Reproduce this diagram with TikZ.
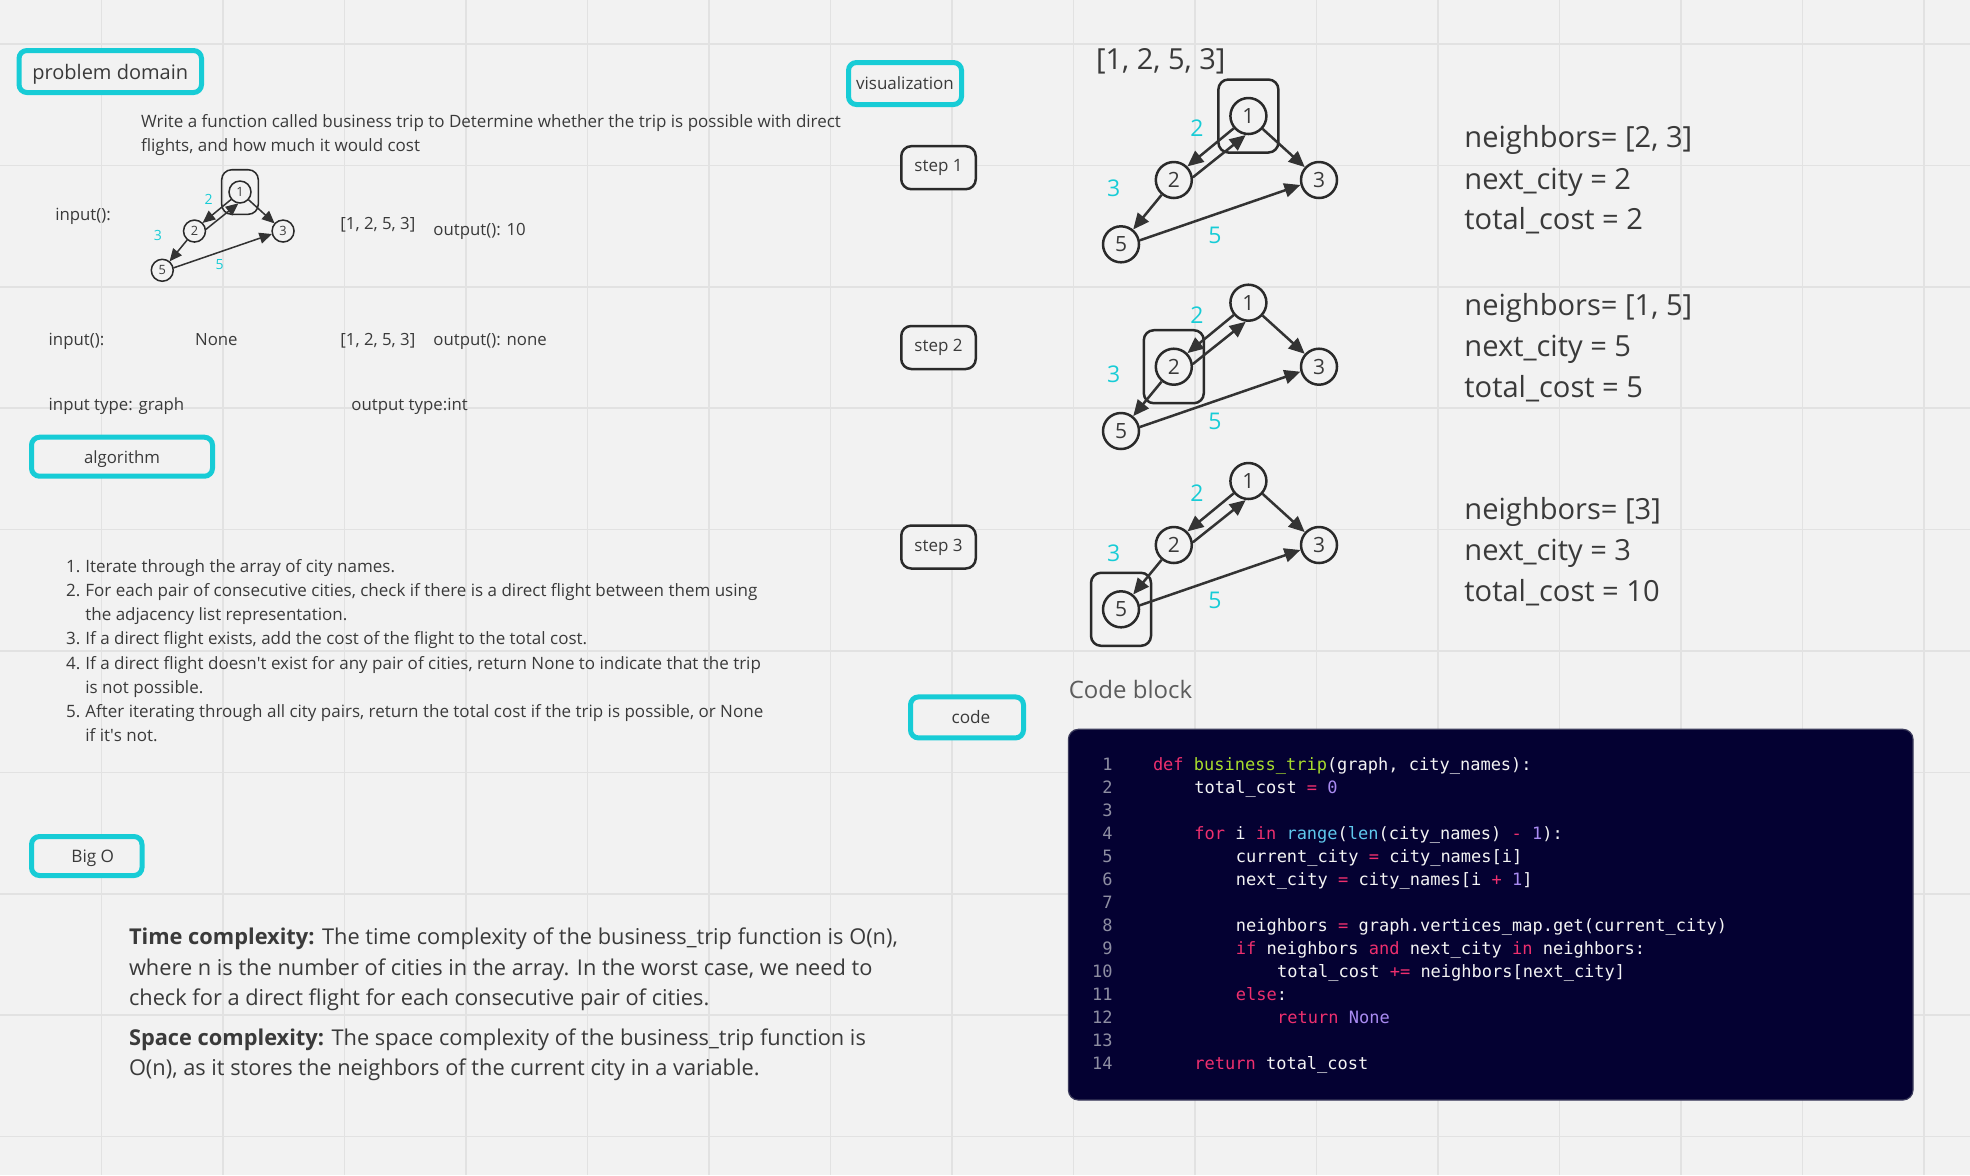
\documentclass[tikz,border=0pt]{standalone}
\usepackage{fontspec}
\setmainfont{Open Sans}
\newfontfamily\codefont{DejaVu Sans Mono}
\usetikzlibrary{arrows.meta}
\definecolor{bgc}{HTML}{F2F2F2}
\definecolor{gridc}{HTML}{E2E2E2}
\definecolor{cyanb}{HTML}{17CCD6}
\definecolor{txtc}{HTML}{3A3A3A}
\definecolor{stepc}{HTML}{2A2A2A}
\definecolor{edgec}{HTML}{333333}
\definecolor{codebg}{HTML}{040132}
\definecolor{codeborder}{HTML}{3C3C5C}
\definecolor{kwc}{HTML}{EE2F6E}
\definecolor{fnc}{HTML}{A8DC2C}
\definecolor{bic}{HTML}{5FC8EC}
\definecolor{numc}{HTML}{A98BF2}
\definecolor{codetxt}{HTML}{F4F4F4}
\definecolor{lnc}{HTML}{8E8EA2}
\definecolor{cblc}{HTML}{5C5C5C}
\newcommand\fsz[1]{\fontsize{#1pt}{#1pt}\selectfont}
\newcommand\kw[1]{\textcolor{kwc}{#1}}
\newcommand\fn[1]{\textcolor{fnc}{#1}}
\newcommand\bi[1]{\textcolor{bic}{#1}}
\newcommand\nm[1]{\textcolor{numc}{#1}}
\newcommand\tripgraph[6]{%
  \pgfmathsetmacro\gtl{8*(0.45+0.55*#4)}%
  \pgfmathsetmacro\gtw{7*(0.45+0.55*#4)}%
  \pgfmathsetmacro\glw{1.25*#4}%
  \pgfmathsetmacro\gcw{1.25*#4}%
  \begin{scope}[shift={(#2,#3)}, scale=#4, every node/.append style={transform shape}]
    \node[hlbox, line width=\gcw pt] (#1-hl) at (#5,#6) {};
    \node[city, line width=\gcw pt] (#1-1) at (0,0) {1};
    \node[city, line width=\gcw pt] (#1-2) at (-74.6,64) {2};
    \node[city, line width=\gcw pt] (#1-3) at (70.6,64) {3};
    \node[city, line width=\gcw pt] (#1-5) at (-127.4,128.3) {5};
    \node[wlab] (#1-w2) at (-51.4,12) {2};
    \node[wlab] (#1-w3) at (-134.8,72) {3};
    \node[wlab] (#1-w5) at (-33.4,119) {5};
    \draw[edgec, line width=\glw pt, -{Triangle[length=\gtl pt,width=\gtw pt]}] (#1-1.220) -- (#1-2.45);
    \draw[edgec, line width=\glw pt, -{Triangle[length=\gtl pt,width=\gtw pt]}] (#1-2.8) -- (#1-1.262);
    \draw[edgec, line width=\glw pt, -{Triangle[length=\gtl pt,width=\gtw pt]}] (#1-1) -- (#1-3);
    \draw[edgec, line width=\glw pt, -{Triangle[length=\gtl pt,width=\gtw pt]}] (#1-2) -- (#1-5);
    \draw[edgec, line width=\glw pt, -{Triangle[length=\gtl pt,width=\gtw pt]}] (#1-5.12) -- (#1-3.195);
  \end{scope}}
\begin{document}
\begin{tikzpicture}[x=0.5pt,y=-0.5pt,
  txt/.style={inner sep=0pt, text=txtc, anchor=base west},
  cyanbox/.style={draw=cyanb, line width=2.5pt, rounded corners=4pt, fill=bgc, inner sep=0pt, text=txtc, text depth=0pt},
  stepbox/.style={draw=stepc, line width=1.25pt, rounded corners=5pt, fill=bgc, inner sep=0pt, text=txtc, minimum width=37.25pt, minimum height=21.5pt, font=\fsz{8.5}},
  city/.style={circle, draw=stepc, fill=bgc, minimum size=18pt, inner sep=0pt, font=\fsz{10.5}, text=txtc},
  hlbox/.style={rectangle, draw=stepc, rounded corners=5pt, minimum width=30pt, minimum height=36.5pt, inner sep=0pt},
  wlab/.style={text=cyanb, font=\fsz{11.5}, inner sep=0pt},
  code/.style={anchor=base west, inner sep=0pt, text=codetxt, font=\codefont\fsz{8.5}},
  lnum/.style={anchor=base east, inner sep=0pt, text=lnc, font=\codefont\fsz{8.5}},
  bigt/.style={txt, font=\fsz{14.55}},
  smt/.style={txt, font=\fsz{8.4}},
  algt/.style={txt, font=\fsz{8.5}},
  cxt/.style={txt, font=\fsz{10.9}}
]
\useasboundingbox (0,0) rectangle (1970,1175);
\fill[bgc] (0,0) rectangle (1970,1175);
\foreach \i in {0,...,15} \draw[gridc, line width=0.8pt] ({101.5+121.5*\i},0) -- ({101.5+121.5*\i},1175);
\foreach \j in {0,...,9} \draw[gridc, line width=0.8pt] (0,{44+121.4*\j}) -- (1970,{44+121.4*\j});

% section boxes
\node[cyanbox, minimum width=91.25pt, minimum height=21pt, font=\fsz{10}] (pd) at (110.25,71.5) {problem domain};
\node[cyanbox, minimum width=90.5pt, minimum height=19.5pt, font=\fsz{8.4}] (alg) at (122,456.7) {algorithm};
\node[cyanbox, minimum width=55.25pt, minimum height=19.5pt, font=\fsz{8.6}] (bigo) at (86.75,856) {\hspace*{6pt}Big O};
\node[cyanbox, minimum width=56.5pt, minimum height=21pt, font=\fsz{8.5}] (vis) at (905,83.5) {visualization};
\node[cyanbox, minimum width=56.5pt, minimum height=20.5pt, font=\fsz{8.6}] (codel) at (967,717.4) {\hspace*{4pt}code};
\node[stepbox] (s1) at (938.5,167.7) {step 1};
\node[stepbox] (s2) at (938.5,347.5) {step 2};
\node[stepbox] (s3) at (938.5,547) {step 3};

% problem domain texts
\node[txt, font=\fsz{8.5}] (d1) at (140.7,127.5) {Write a function called business trip to Determine whether the trip is possible with direct};
\node[txt, font=\fsz{8.5}] (d2) at (140.7,151) {flights, and how much it would cost};
\node[smt] (in1) at (54.9,220.5) {input():};
\node[smt] (ar1) at (340,229.5) {[1, 2, 5, 3]};
\node[smt] (out1) at (433,235) {output(): 10};
\node[smt] (in2) at (48.3,345) {input():};
\node[smt] (none2) at (194.7,345) {None};
\node[smt] (ar2) at (340,345) {[1, 2, 5, 3]};
\node[smt] (out2) at (433,345) {output(): none};
\node[smt] (it) at (48.3,410) {input type: graph};
\node[smt] (ot) at (351,410) {output type:int};

\tripgraph{g0}{240}{192}{0.61}{0}{0}

% algorithm list
\foreach \k/\num/\line in {0/1./Iterate through the array of city names.,
  1/2./{For each pair of consecutive cities, check if there is a direct flight between them using},
  2//the adjacency list representation.,
  3/3./{If a direct flight exists, add the cost of the flight to the total cost.},
  4/4./{If a direct flight doesn{\textquotesingle}t exist for any pair of cities, return None to indicate that the trip},
  5//is not possible.,
  6/5./{After iterating through all city pairs, return the total cost if the trip is possible, or None},
  7//{if it{\textquotesingle}s not.}}
{
  \node[algt] (an\k) at (65.8,{572.5+24.14*\k}) {\num};
  \node[algt] (al\k) at (85,{572.5+24.14*\k}) {\line};
}

% big O
\node[cxt] (t1) at (128.6,944) {\textbf{Time complexity:} The time complexity of the business\_trip function is O(n),};
\node[cxt] (t2) at (128.6,975) {where n is the number of cities in the array. In the worst case, we need to};
\node[cxt] (t3) at (128.6,1005.5) {check for a direct flight for each consecutive pair of cities.};
\node[cxt] (t4) at (128.6,1045) {\textbf{Space complexity:} The space complexity of the business\_trip function is};
\node[cxt] (t5) at (128.6,1075.5) {O(n), as it stores the neighbors of the current city in a variable.};

% visualization
\node[txt, font=\fsz{14.5}] (arr) at (1095.7,69.3) {[1, 2, 5, 3]};
\tripgraph{g1}{1248.4}{116}{1}{0}{0}
\tripgraph{g2}{1248.4}{302.7}{1}{-74.6}{64}
\tripgraph{g3}{1248.4}{481}{1}{-127.4}{128.3}
\node[bigt] (n1) at (1464,147.3) {neighbors= [2, 3]};
\node[bigt] (c1) at (1464,189.3) {next\_city = 2};
\node[bigt] (tc1) at (1464,229.3) {total\_cost = 2};
\node[bigt] (n2) at (1464,315) {neighbors= [1, 5]};
\node[bigt] (c2) at (1464,356.7) {next\_city = 5};
\node[bigt] (tc2) at (1464,397.3) {total\_cost = 5};
\node[bigt] (n3) at (1464,519.3) {neighbors= [3]};
\node[bigt] (c3) at (1464,560) {next\_city = 3};
\node[bigt] (tc3) at (1464,601.7) {total\_cost = 10};

% code block
\node[txt, font=\fsz{12}, text=cblc] (cbl) at (1068.4,698.3) {Code block};
\node[draw=codeborder, line width=0.6pt, fill=codebg, rounded corners=5pt, minimum width=422.3pt, minimum height=185.35pt, inner sep=0pt] (codeblk) at (1490.7,914.65) {};
\foreach \n in {1,...,14} \node[lnum] (ln\n) at (1113,{770+23.02*(\n-1)}) {\n};
\node[code] (k1) at (1152.6,770) {\kw{def} \fn{business\_trip}(graph, city\_names):};
\node[code] (k2) at (1194,793) {total\_cost \kw{=} \nm{0}};
\node[code] (k4) at (1194,839.1) {\kw{for} i \kw{in} \bi{range}(\bi{len}(city\_names) \kw{-} \nm{1}):};
\node[code] (k5) at (1235.4,862.1) {current\_city \kw{=} city\_names[i]};
\node[code] (k6) at (1235.4,885.1) {next\_city \kw{=} city\_names[i \kw{+} \nm{1}]};
\node[code] (k8) at (1235.4,931.2) {neighbors \kw{=} graph.vertices\_map.get(current\_city)};
\node[code] (k9) at (1235.4,954.2) {\kw{if} neighbors \kw{and} next\_city \kw{in} neighbors:};
\node[code] (k10) at (1276.8,977.2) {total\_cost \kw{+=} neighbors[next\_city]};
\node[code] (k11) at (1235.4,1000.2) {\kw{else}:};
\node[code] (k12) at (1276.8,1023.2) {\kw{return} \nm{None}};
\node[code] (k14) at (1194,1069.3) {\kw{return} total\_cost};
\end{tikzpicture}
\end{document}
